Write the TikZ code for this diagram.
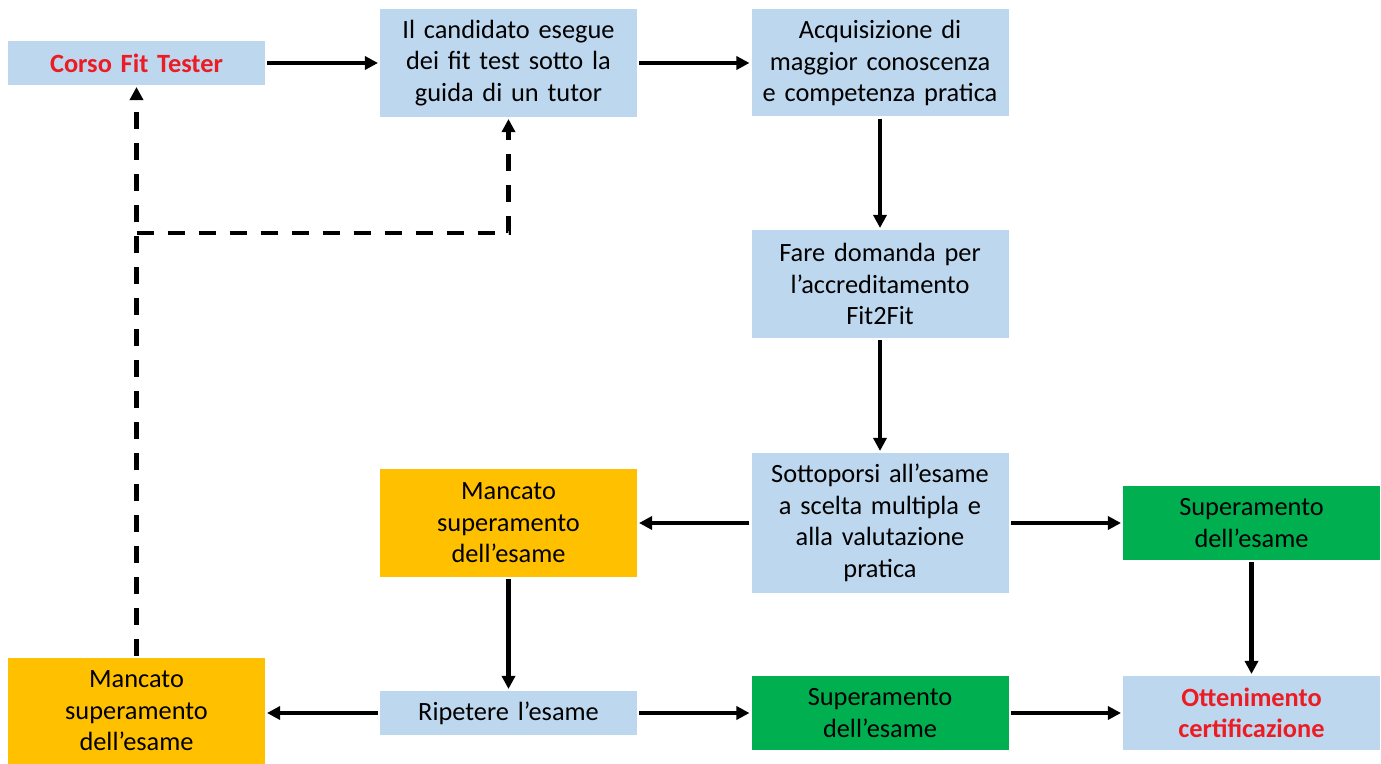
\documentclass[tikz,border=0pt]{standalone}
\usepackage{fontspec}
\setmainfont{Carlito}
\usetikzlibrary{arrows.meta}
\definecolor{boxblue}{RGB}{189,215,238}
\definecolor{boxorange}{RGB}{255,192,0}
\definecolor{boxgreen}{RGB}{0,176,80}
\definecolor{boxred}{RGB}{235,28,36}
\begin{document}
\begin{tikzpicture}[line width=2.3pt,>={Triangle[length=2.6mm,width=2.6mm]}]
	\def \colone{2.73cm}
	\def \coltwo{10.17cm}
	\def \colthree{17.6cm}
	\def \colfour{25.03cm}
	\def \rowone{-1.26cm}
	\def \rowtwo{-5.68cm}
	\def \rowthree{-10.46cm}
	\def \rowfour{-14.26cm}
	\def \rowdash{-4.66cm}
	\tikzstyle{b-node}=[fill=boxblue,text width=5cm,align=center,minimum width=5.14cm,inner sep=0pt,font=\fontsize{15}{18}\selectfont]
	\tikzstyle{o-node}=[b-node,fill=boxorange]
	\tikzstyle{g-node}=[b-node,fill=boxgreen]
	\tikzstyle{r-text}=[text=boxred,font=\fontsize{15}{18}\selectfont\bfseries]
	\tikzstyle{flow}=[->]
	\tikzstyle{back}=[->,dash pattern=on 0.34cm off 0.28cm]
	\useasboundingbox (0,0) rectangle (27.62,-15.28);

	% top row
	\node[b-node,r-text,minimum height=0.88cm] (corso) at (\colone,\rowone) {Corso Fit Tester};
	\node[b-node,minimum height=2.16cm] (tutor) at (\coltwo,\rowone) {Il candidato esegue\\dei fit test sotto la\\guida di un tutor};
	\node[b-node,minimum height=2.14cm] (acquisizione) at (\colthree,\rowone) {Acquisizione di\\maggior conoscenza\\e competenza pratica};

	% accreditation
	\node[b-node,minimum height=2.16cm] (domanda) at (\colthree,\rowtwo) {Fare domanda per\\l’accreditamento\\Fit2Fit};

	% exam
	\node[b-node,minimum height=2.8cm] (esame) at (\colthree,\rowthree) {Sottoporsi all’esame\\a scelta multipla e\\alla valutazione\\pratica};
	\node[o-node,minimum height=2.16cm] (mancatoA) at (\coltwo,\rowthree) {Mancato\\superamento\\dell’esame};
	\node[g-node,minimum height=1.48cm] (superA) at (\colfour,\rowthree) {Superamento\\dell’esame};

	% second try
	\node[b-node,minimum height=0.88cm] (ripetere) at (\coltwo,\rowfour) {Ripetere l’esame};
	\node[o-node,minimum height=2.12cm] (mancatoB) at (\colone,-14.22cm) {Mancato\\superamento\\dell’esame};
	\node[g-node,minimum height=1.48cm] (superB) at (\colthree,\rowfour) {Superamento\\dell’esame};
	\node[b-node,r-text,minimum height=1.48cm] (certificazione) at (\colfour,\rowfour) {Ottenimento\\certificazione};

	\path[flow]
		(corso)		edge	(tutor)
		(tutor)		edge	(acquisizione)
		(acquisizione)	edge	(domanda)
		(domanda)	edge	(esame)
		(esame)		edge	(mancatoA)
		(esame)		edge	(superA)
		(mancatoA)	edge	(ripetere)
		(ripetere)	edge	(ripetere -| mancatoB.east)
		(ripetere)	edge	(superB)
		(superB)	edge	(certificazione)
		(superA)	edge	(certificazione);

	% way back
	\coordinate (split) at (\colone,\rowdash);
	\draw[back] (mancatoB) -- (corso);
	\draw[back] (split) -| (tutor);
\end{tikzpicture}
\end{document}
